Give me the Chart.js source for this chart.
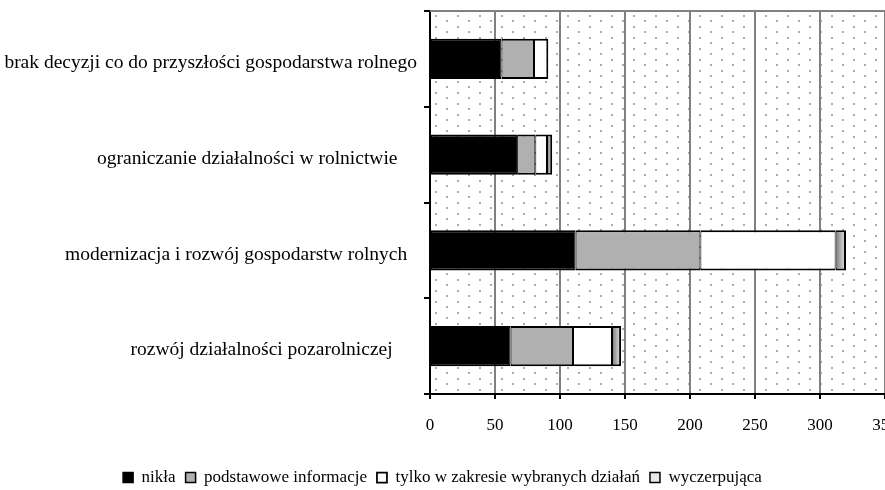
<!DOCTYPE html>
<html>
<head>
<meta charset="utf-8">
<script src="https://cdn.jsdelivr.net/npm/chart.js@4"></script>
<style>
  html, body { margin: 0; padding: 0; background: #fff; }
  #wrap { width: 885px; height: 490px; position: relative; }
</style>
</head>
<body>
<div id="wrap"><canvas id="chart"></canvas></div>
<script>
// categories (trailing spaces keep the uneven label alignment of the original)
const categories = [
  'brak decyzji co do przyszłości gospodarstwa rolnego',
  'ograniczanie działalności w rolnictwie    ',
  'modernizacja i rozwój gospodarstw rolnych  ',
  'rozwój działalności pozarolniczej     ',
];
const seriesNames = ['nikła', 'podstawowe informacje', 'tylko w zakresie wybranych działań', 'wyczerpująca'];
const nikla = [55, 67, 112, 62];
const podstawowe = [25, 14, 96, 48];
const tylkoWybrane = [11, 9, 104, 30];
const wyczerpujaca = [0, 4, 8, 7];
const xTicks = [0, 50, 100, 150, 200, 250, 300, 350];

const series = [nikla, podstawowe, tylkoWybrane, wyczerpujaca];
const fills = ['#000000', '#b0b0b0', '#ffffff', null];

Chart.defaults.font.family = '"Liberation Serif", "Times New Roman", serif';
Chart.defaults.font.size = 17;
Chart.defaults.color = '#000';

// dotted plot-area background
const dots = document.createElement('canvas');
dots.width = 22;
dots.height = 11;
const dctx = dots.getContext('2d');
dctx.fillStyle = '#ababab';
dctx.fillRect(0, 0, 2, 2);
dctx.fillRect(11, 5, 2, 2);

const plotBackground = {
  id: 'plotBackground',
  beforeDraw(chart) {
    const { ctx, chartArea: a } = chart;
    ctx.save();
    ctx.fillStyle = '#fff';
    ctx.fillRect(a.left, a.top, a.right - a.left, a.bottom - a.top);
    ctx.beginPath();
    ctx.rect(a.left, a.top, a.right - a.left, a.bottom - a.top);
    ctx.clip();
    ctx.translate(a.left + 5, a.top + 4);
    ctx.fillStyle = ctx.createPattern(dots, 'repeat');
    ctx.fillRect(-5, -4, a.right - a.left + 10, a.bottom - a.top + 10);
    ctx.restore();
  },
  beforeDatasetsDraw(chart) {
    const { ctx, chartArea: a } = chart;
    ctx.save();
    ctx.strokeStyle = '#808080';
    ctx.lineWidth = 2;
    ctx.beginPath();
    ctx.moveTo(a.left, a.top);
    ctx.lineTo(a.right, a.top);
    ctx.stroke();
    ctx.restore();
  },
};

function stackStart(ds, i) {
  let s = 0;
  for (let k = 0; k < ds; k++) s += series[k][i];
  return s;
}

function lastSegment(ds, i) {
  for (let k = series.length - 1; k >= 0; k--) {
    if (series[k][i] > 0) return k === ds;
  }
  return false;
}

const datasets = series.map((values, ds) => ({
  label: seriesNames[ds],
  data: values,
  backgroundColor: fills[ds] || ((c) => {
    const flat = '#b8b8b8';
    if (c.type !== 'data' || !c.chart.scales.x) return flat;
    const x = c.chart.scales.x;
    const s = stackStart(ds, c.dataIndex);
    const x0 = x.getPixelForValue(s);
    const x1 = x.getPixelForValue(s + values[c.dataIndex]);
    if (!Number.isFinite(x0) || !Number.isFinite(x1)) return flat;
    const g = c.chart.ctx.createLinearGradient(x0, 0, Math.max(x1, x0 + 1), 0);
    g.addColorStop(0, '#7a7a7a');
    g.addColorStop(1, '#e8e8e8');
    return g;
  }),
  borderColor: '#000',
  borderWidth: (c) => {
    if (c.type !== 'data') return 2;
    return { top: 2, bottom: 2, left: 1, right: lastSegment(ds, c.dataIndex) ? 2 : 1 };
  },
  borderSkipped: false,
  barPercentage: 0.42,
  categoryPercentage: 1,
}));

new Chart(document.getElementById('chart'), {
  type: 'bar',
  data: { labels: categories, datasets },
  options: {
    indexAxis: 'y',
    responsive: true,
    maintainAspectRatio: false,
    animation: false,
    layout: { padding: { top: 11, left: 0, right: 0, bottom: -6 } },
    scales: {
      x: {
        stacked: true,
        min: xTicks[0],
        max: xTicks[xTicks.length - 1],
        afterBuildTicks: (scale) => { scale.ticks = xTicks.map((v) => ({ value: v })); },
        afterFit: (scale) => { scale.paddingRight = 0; scale.height = 65; },
        ticks: { padding: 16, maxRotation: 0, autoSkip: false },
        grid: { color: '#808080', lineWidth: 2, tickColor: '#000', tickLength: 5 },
        border: { color: '#000', width: 2 },
      },
      y: {
        stacked: true,
        afterFit: (scale) => {
          scale.width = 430;
          scale.paddingTop = 0;
          scale.paddingBottom = 0;
        },
        ticks: { padding: 7, labelOffset: 4, font: { size: 19.5 } },
        grid: { drawOnChartArea: false, color: '#000', lineWidth: 2, tickLength: 6, offset: true },
        border: { color: '#000', width: 2 },
      },
    },
    plugins: {
      legend: {
        position: 'bottom',
        labels: { boxWidth: 10, boxHeight: 10, padding: 10, font: { size: 17 } },
      },
      tooltip: { enabled: false },
    },
  },
  plugins: [plotBackground],
});
</script>
</body>
</html>
